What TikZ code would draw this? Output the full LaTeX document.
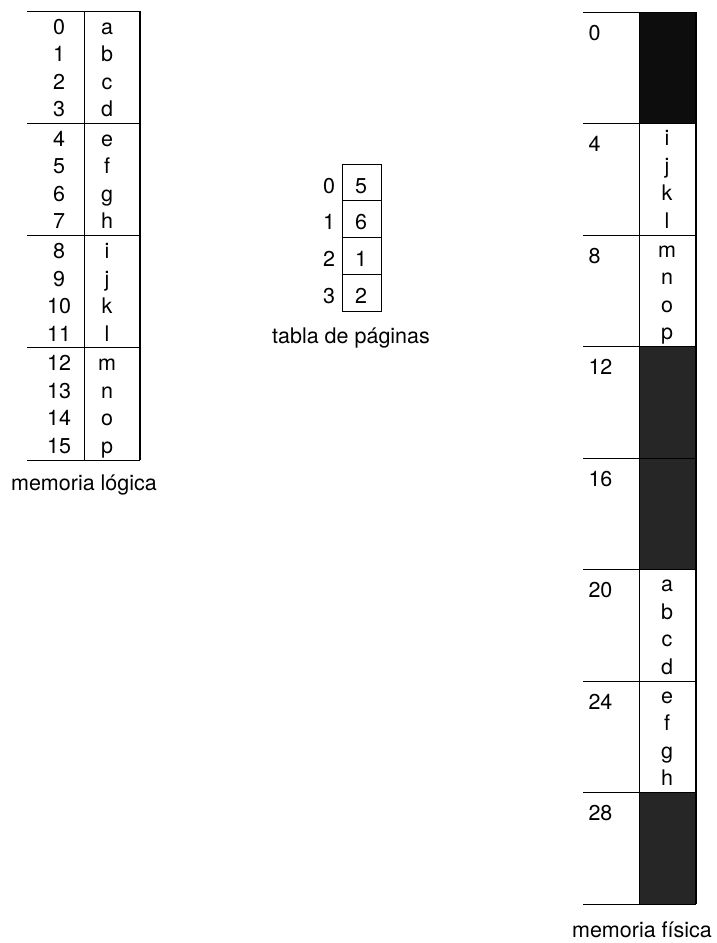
\documentclass[tikz,border=0pt]{standalone}
\usepackage{fontspec}
\setmainfont{TeX Gyre Heros}
\usetikzlibrary{positioning}

\begin{document}
\begin{tikzpicture}[x=1pt,y=-1pt,line width=1pt,
  txt/.style={font=\fontsize{21.5}{25}\selectfont,anchor=base,inner sep=0pt}]
  \useasboundingbox (0,0) rectangle (716,943);
  % memoria logica
  \def\G{112.25}
  \foreach \g in {0,...,4}{\draw (27,11+\g*\G) -- (140,11+\g*\G);}
  \draw (84,11) -- (84,460); \draw[line width=1.4pt] (140,11) -- (140,460);
  \foreach \c [count=\i from 0] in {a,...,p}{
    \pgfmathsetmacro\y{11+floor(\i/4)*\G+23+mod(\i,4)*27.5}
    \node[txt] (num\i) at (59,\y) {\i};
    \node[txt] (let\i) at (107,\y) {\c};}
  \node[txt] (logica) at (84,490) {memoria lógica};
  % tabla de paginas
  \def\P{36.75}
  \draw (342,164) rectangle (381,311);
  \foreach \k in {1,2,3}{\draw (342,164+\k*\P) -- (381,164+\k*\P);}
  \foreach \f [count=\k from 0] in {5,6,1,2}{
    \node[txt] (idx\k) at (329,164+\k*\P+29) {\k};
    \node[txt] (pg\k) at (361,164+\k*\P+29) {\f};}
  \node[txt] (tabla) at (351,343) {tabla de páginas};
  % memoria fisica
  \def\F{111.5}
  \foreach \k/\s in {0/95,3/85,4/85,7/85}{\fill[black!\s] (639,12+\k*\F) rectangle (696,12+\k*\F+\F);}
  \foreach \k in {0,...,8}{\draw (583,12+\k*\F) -- (696,12+\k*\F);}
  \draw (639,12) -- (639,904); \draw[line width=1.4pt] (696,12) -- (696,904);
  \foreach \k in {0,...,7}{\pgfmathtruncatemacro\a{4*\k}
    \node[txt,anchor=base west] (dir\k) at (588,12+\k*\F+28) {\a};}
  \foreach \k/\cs in {5/{a,b,c,d},6/{e,f,g,h},1/{i,j,k,l},2/{m,n,o,p}}{
    \foreach \c [count=\r from 0] in \cs {
      \node[txt] (fr\k\r) at (667,12+\k*\F+22+\r*27.5) {\c};}}
  \node[txt] (fisica) at (642,937) {memoria física};
\end{tikzpicture}
\end{document}
